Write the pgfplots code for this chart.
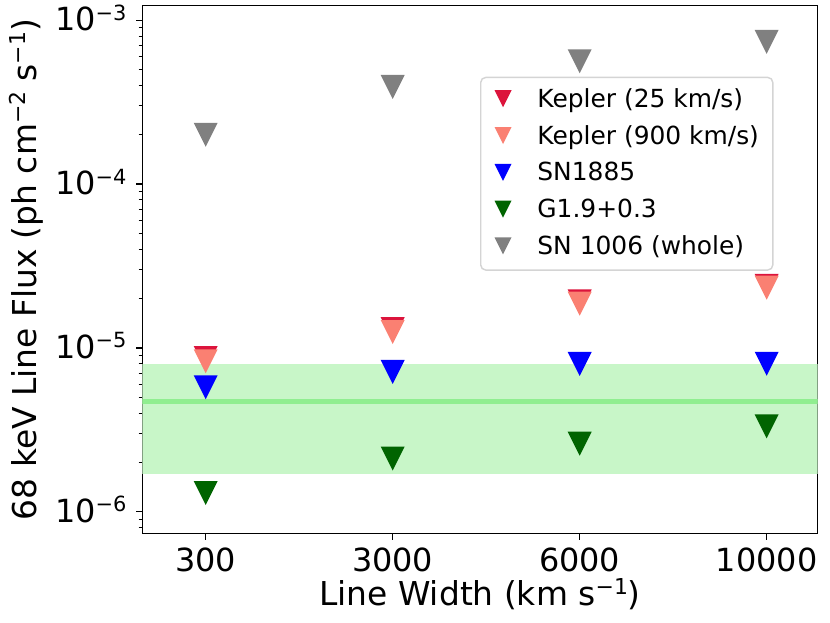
\documentclass[border=0pt]{standalone}
\usepackage{fontspec}
\setmainfont{DejaVu Sans}
\usepackage{pgfplots}
\pgfplotsset{compat=1.18}
\definecolor{crimson}{HTML}{DC143C}
\definecolor{salmon}{HTML}{FA8072}
\definecolor{dkgreen}{HTML}{006400}
\definecolor{mgray}{HTML}{808080}
\definecolor{bandgreen}{HTML}{C8F6C8}
\definecolor{lgreen}{HTML}{90EE90}
\definecolor{leggray}{HTML}{D4D4D4}
\newcommand\sups[1]{\raisebox{10.5bp}{\fontsize{21}{21}\selectfont #1}}
\newcommand\lsups[1]{\raisebox{11bp}{\fontsize{22}{22}\selectfont #1}}
\pgfdeclareplotmark{tridown}{%
  \pgfpathmoveto{\pgfqpoint{0pt}{-\pgfplotmarksize}}%
  \pgfpathlineto{\pgfqpoint{-\pgfplotmarksize}{\pgfplotmarksize}}%
  \pgfpathlineto{\pgfqpoint{\pgfplotmarksize}{\pgfplotmarksize}}%
  \pgfpathclose\pgfusepathqfill}
\pgfplotstableread{
x y
0 8.67e-6
1 1.30e-5
2 1.92e-5
3 2.39e-5
}\kepA
\pgfplotstableread{
x y
0 8.28e-6
1 1.25e-5
2 1.86e-5
3 2.33e-5
}\kepB
\pgfplotstableread{
x y
0 5.75e-6
1 7.13e-6
2 7.98e-6
3 8.00e-6
}\snA
\pgfplotstableread{
x y
0 1.30e-6
1 2.11e-6
2 2.60e-6
3 3.32e-6
}\gA
\pgfplotstableread{
x y
0 2.00e-4
1 3.92e-4
2 5.62e-4
3 7.38e-4
}\snB
\begin{document}
\begin{tikzpicture}
\path[use as bounding box] (0,0) rectangle (830bp,623bp);
\begin{axis}[
  at={(142.3bp,89.7bp)}, anchor=south west,
  scale only axis, width=675.4bp, height=527.6bp,
  ymode=log, ymin=7.38e-7, ymax=1.227e-3,
  xmin=-0.339, xmax=3.273,
  xtick={0,1,2,3}, xticklabels={300,3000,6000,10000},
  ytick={1e-6,1e-5,1e-4,1e-3},
  yticklabels={10\sups{−6},10\sups{−5},10\sups{−4},10\sups{−3}},
  minor ytick={8e-7,9e-7,2e-6,3e-6,4e-6,5e-6,6e-6,7e-6,8e-6,9e-6,2e-5,3e-5,4e-5,5e-5,6e-5,7e-5,8e-5,9e-5,2e-4,3e-4,4e-4,5e-4,6e-4,7e-4,8e-4,9e-4},
  tick pos=left, tick align=outside,
  major tick length=6.3bp, minor tick length=3.6bp,
  every major tick/.style={black, line width=1.44bp},
  every minor tick/.style={black, line width=1.08bp},
  axis line style={black, line width=1.44bp},
  tick label style={font=\fontsize{32}{38}\selectfont, inner sep=0pt},
  xticklabel style={anchor=base, yshift=-31.4bp},
  yticklabel style={anchor=base east, xshift=-9.3bp, yshift=-10.5bp},
  label style={font=\fontsize{33}{39}\selectfont, inner sep=0pt},
  xlabel={Line Width (km s\lsups{−1})},
  xlabel style={at={(axis description cs:0.5,0)}, anchor=base, yshift=-71.7bp},
  ylabel={68 keV Line Flux (ph cm\lsups{−2} s\lsups{−1})},
  ylabel style={at={(axis description cs:-0.15635,0.5)}, anchor=base},
  legend style={at={(axis description cs:0.5,0.8654)}, anchor=north west,
    draw=leggray, line width=1.44bp, rounded corners=5bp, fill=white,
    inner xsep=13.8bp, inner ysep=10.7bp,
    font=\fontsize{25}{30}\selectfont,
    row sep=12.8bp, column sep=25.9bp,
    nodes={inner sep=0pt, text height=19.1bp, text depth=4.9bp, anchor=base west}},
  legend cell align=left,
  legend image code/.code={\draw[#1, mark size=8.5bp] plot coordinates {(0bp,8.5bp)};},
]
\addplot[forget plot, draw=none, fill=bandgreen] coordinates {(-0.339,1.7e-6) (3.273,1.7e-6) (3.273,7.97e-6) (-0.339,7.97e-6)} -- cycle;
\addplot[forget plot, lgreen, line width=5bp] coordinates {(-0.339,4.7e-6) (3.273,4.7e-6)};
\addplot[only marks, mark=tridown, mark size=12bp, crimson] table {\kepA};
\addlegendentry{Kepler (25 km/s)}
\addplot[only marks, mark=tridown, mark size=12bp, salmon] table {\kepB};
\addlegendentry{Kepler (900 km/s)}
\addplot[only marks, mark=tridown, mark size=12bp, blue] table {\snA};
\addlegendentry{SN1885}
\addplot[only marks, mark=tridown, mark size=12bp, dkgreen] table {\gA};
\addlegendentry{G1.9+0.3}
\addplot[only marks, mark=tridown, mark size=12bp, mgray] table {\snB};
\addlegendentry{SN 1006 (whole)}
\end{axis}
\end{tikzpicture}
\end{document}
